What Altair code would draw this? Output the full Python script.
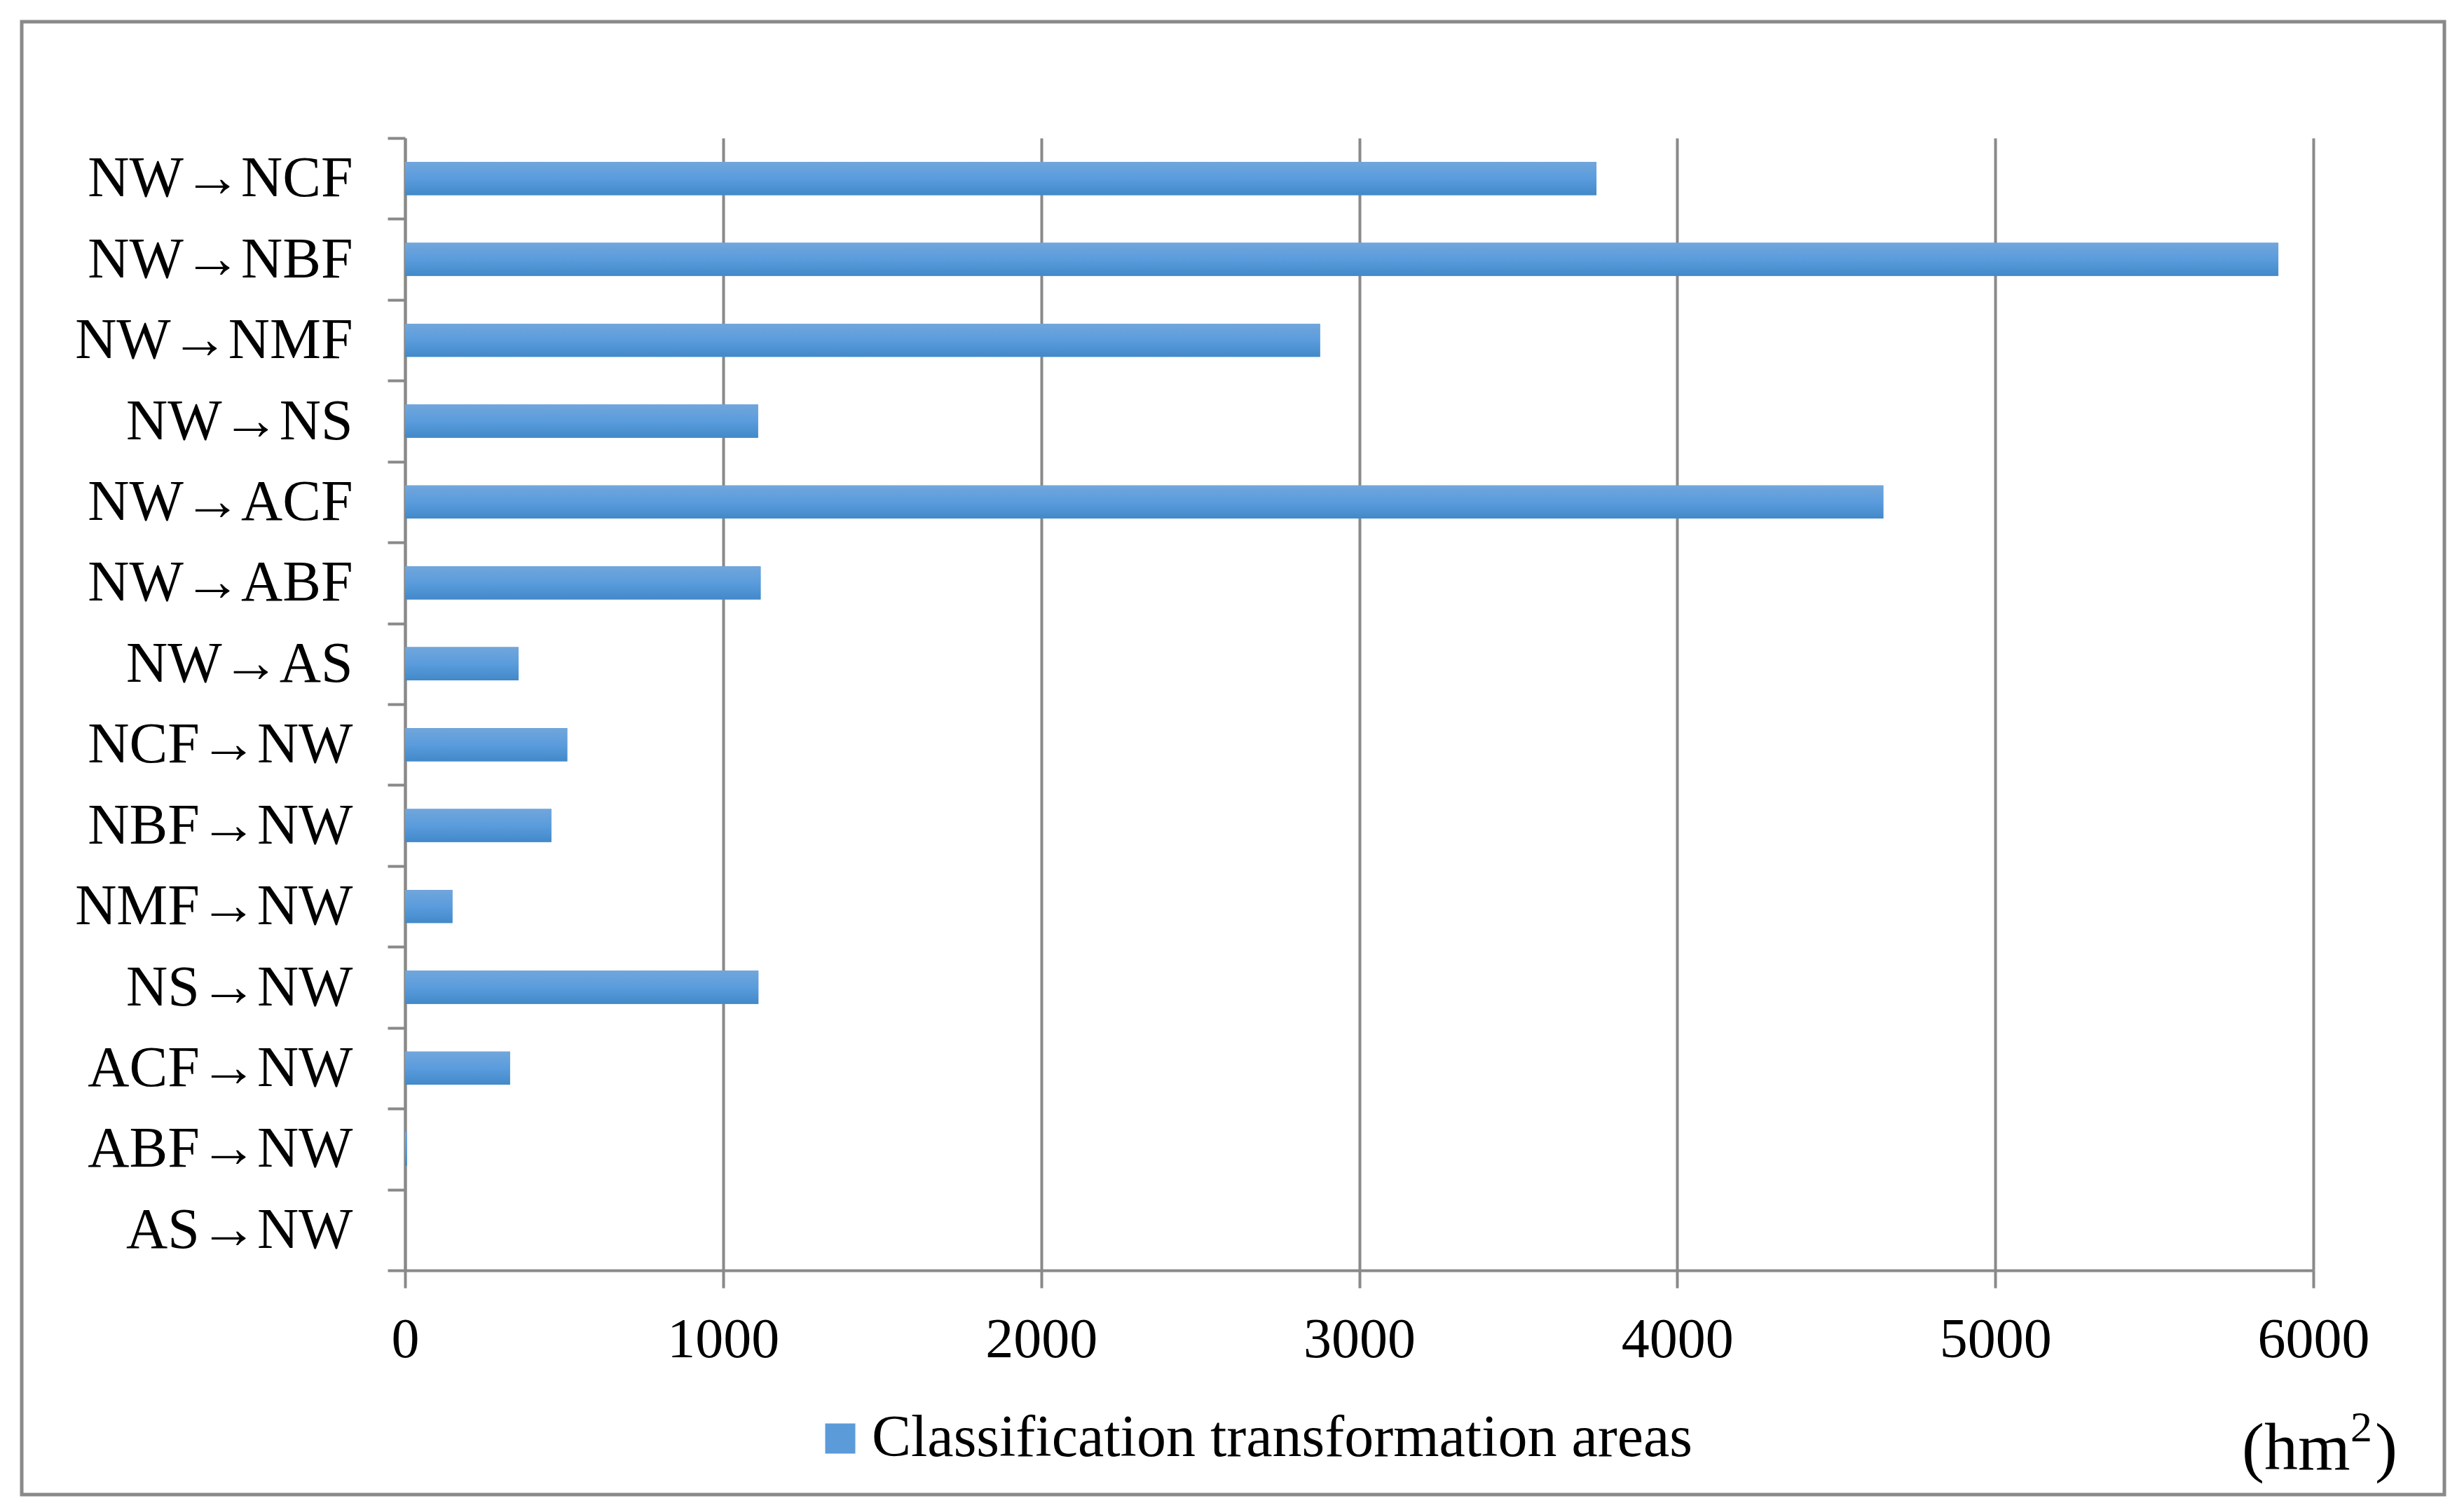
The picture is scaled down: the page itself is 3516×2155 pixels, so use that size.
import altair as alt
import pandas as pd

categories = ["NW→NCF", "NW→NBF", "NW→NMF", "NW→NS", "NW→ACF", "NW→ABF", "NW→AS",
              "NCF→NW", "NBF→NW", "NMF→NW", "NS→NW", "ACF→NW", "ABF→NW", "AS→NW"]
areas = [3746, 5890, 2877, 1110, 4648, 1118, 357, 510, 460, 149, 1111, 330, 6, 0]
series_name = ["Classification transformation areas"]
x_ticks = [0, 1000, 2000, 3000, 4000, 5000, 6000]
unit_parts = ["(hm", "2", ")"]

df = pd.DataFrame({"category": categories, "area": areas,
                   "series": series_name * len(categories)})

W, H = 2723, 1616
FONT = "Liberation Serif"
GRAY = "#898989"

gradient = alt.Gradient(
    gradient="linear",
    stops=[alt.GradientStop(color="#71a6db", offset=0),
           alt.GradientStop(color="#5a9cdd", offset=0.5),
           alt.GradientStop(color="#4289c8", offset=1)],
    x1=0, x2=0, y1=0, y2=1)

x_enc = alt.X("area:Q", scale=alt.Scale(domain=[0, 6000], nice=False),
              axis=alt.Axis(values=x_ticks, format="d", title=None, grid=True,
                            gridColor=GRAY, gridWidth=4, domainColor=GRAY, domainWidth=4,
                            tickColor=GRAY, tickWidth=4, tickSize=25,
                            labelFont=FONT, labelFontSize=80, labelColor="black",
                            labelPadding=35, labelFlush=False, labelOverlap=False))
y_enc = alt.Y("category:N", sort=categories,
              scale=alt.Scale(paddingInner=0, paddingOuter=0),
              axis=alt.Axis(title=None, tickBand="extent", grid=False,
                            domainColor=GRAY, domainWidth=4,
                            tickColor=GRAY, tickWidth=4, tickSize=25,
                            labelFont=FONT, labelFontSize=82, labelColor="black",
                            labelPadding=50, labelLimit=1000))

base = alt.Chart(df)

legend_bars = base.mark_bar(height=alt.RelativeBandSize(0.41)).encode(
    x=x_enc, y=y_enc,
    color=alt.Color("series:N", scale=alt.Scale(range=["#5b9bd9"]),
                    legend=alt.Legend(title=None, orient="none", legendX=579, legendY=1814,
                                      symbolType="square", symbolSize=1849,
                                      symbolStrokeWidth=0,
                                      labelFont=FONT, labelFontSize=84, labelColor="black",
                                      labelOffset=3, labelLimit=2000, padding=0)))

grad_bars = base.mark_bar(height=alt.RelativeBandSize(0.41), color=gradient).encode(
    x=x_enc, y=y_enc)

border = alt.Chart(pd.DataFrame({"k": [0]})).mark_rect(
    fillOpacity=0, stroke=GRAY, strokeWidth=5).encode(
    x=alt.value(-547), x2=alt.value(2910), y=alt.value(-166), y2=alt.value(1936))

unit_df = pd.DataFrame({"part": unit_parts})


def unit_part(i, x, y, size):
    return alt.Chart(unit_df).transform_filter(
        alt.datum.part == unit_parts[i]).mark_text(
        font=FONT, fontSize=size, align="left", baseline="alphabetic", color="black").encode(
        text="part:N", x=alt.value(x), y=alt.value(y))


p1 = unit_part(0, 2621, 1900, 96)
p2 = unit_part(1, 2776, 1860, 62)
p3 = unit_part(2, 2811, 1900, 96)

chart = alt.layer(border, legend_bars, grad_bars, p1, p2, p3).properties(
    width=W, height=H,
    autosize=alt.AutoSizeParams(type="none"),
    padding={"left": 570, "top": 189, "right": 195, "bottom": 330},
    background="white",
).configure_view(stroke="transparent")

chart.save("out.html", embed_options={"renderer": "svg", "actions": False})
